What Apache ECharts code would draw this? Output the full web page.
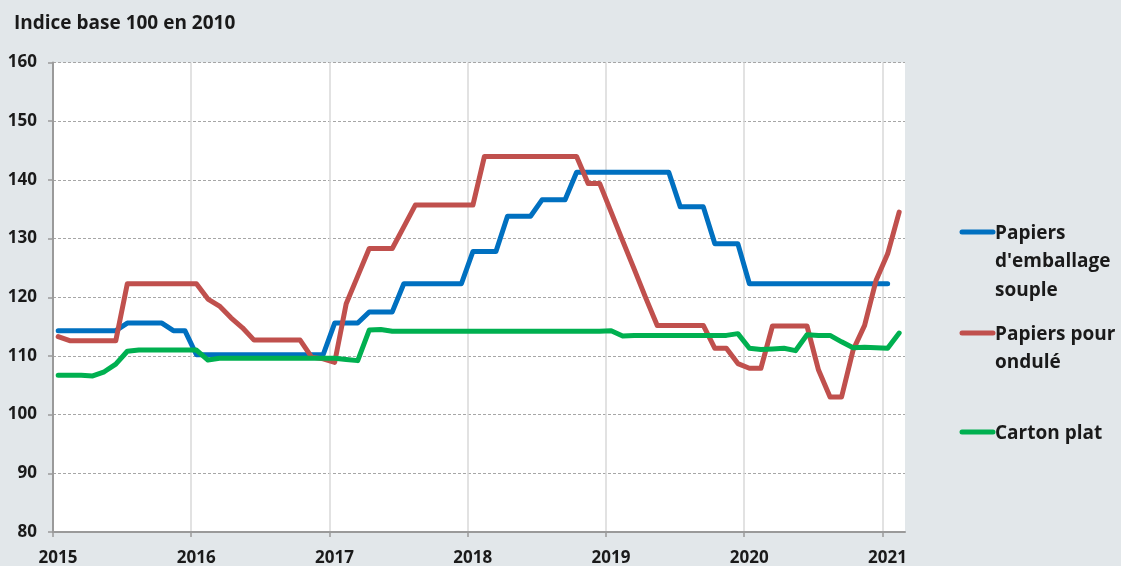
<!DOCTYPE html>
<html>
<head>
<meta charset="utf-8">
<script src="https://cdn.jsdelivr.net/npm/echarts@6/dist/echarts.min.js"></script>
<style>
  html, body { margin: 0; padding: 0; background: #e2e7ea; }
  #chart { width: 1121px; height: 566px; }
</style>
</head>
<body>
<div id="chart"></div>
<script>
// monthly index values, Jan 2015 onwards
const startYear = 2015;
const yearTicks = [2015, 2016, 2017, 2018, 2019, 2020, 2021];

const emballage = [
  114.3, 114.3, 114.3, 114.3, 114.3, 114.3, 115.6, 115.6, 115.6, 115.6, 114.3, 114.3,
  110.2, 110.2, 110.2, 110.2, 110.2, 110.2, 110.2, 110.2, 110.2, 110.2, 110.2, 110.2,
  115.6, 115.6, 115.6, 117.5, 117.5, 117.5, 122.3, 122.3, 122.3, 122.3, 122.3, 122.3,
  127.8, 127.8, 127.8, 133.8, 133.8, 133.8, 136.6, 136.6, 136.6, 141.3, 141.3, 141.3,
  141.3, 141.3, 141.3, 141.3, 141.3, 141.3, 135.4, 135.4, 135.4, 129.1, 129.1, 129.1,
  122.3, 122.3, 122.3, 122.3, 122.3, 122.3, 122.3, 122.3, 122.3, 122.3, 122.3, 122.3,
  122.3, null
];

const ondule = [
  113.3, 112.6, 112.6, 112.6, 112.6, 112.6, 122.3, 122.3, 122.3, 122.3, 122.3, 122.3,
  122.3, 119.7, 118.5, 116.5, 114.8, 112.7, 112.7, 112.7, 112.7, 112.7, 109.8, 109.5,
  108.9, 118.9, 123.6, 128.3, 128.3, 128.3, 132.0, 135.7, 135.7, 135.7, 135.7, 135.7,
  135.7, 144.0, 144.0, 144.0, 144.0, 144.0, 144.0, 144.0, 144.0, 144.0, 139.4, 139.4,
  134.5, 129.6, 124.8, 119.9, 115.2, 115.2, 115.2, 115.2, 115.2, 111.3, 111.3, 108.7,
  107.9, 107.9, 115.1, 115.1, 115.1, 115.1, 107.6, 103.0, 103.0, 111.0, 115.2, 122.9,
  127.4, 134.5
];

const cartonPlat = [
  106.7, 106.7, 106.7, 106.6, 107.3, 108.6, 110.8, 111.0, 111.0, 111.0, 111.0, 111.0,
  111.0, 109.3, 109.6, 109.6, 109.6, 109.6, 109.6, 109.6, 109.6, 109.6, 109.6, 109.6,
  109.6, 109.4, 109.2, 114.4, 114.5, 114.2, 114.2, 114.2, 114.2, 114.2, 114.2, 114.2,
  114.2, 114.2, 114.2, 114.2, 114.2, 114.2, 114.2, 114.2, 114.2, 114.2, 114.2, 114.2,
  114.3, 113.4, 113.5, 113.5, 113.5, 113.5, 113.5, 113.5, 113.5, 113.5, 113.5, 113.8,
  111.3, 111.1, 111.2, 111.3, 110.9, 113.6, 113.5, 113.5, 112.4, 111.4, 111.5, 111.4,
  111.3, 113.9
];

// each monthly value is plotted in the middle of its month
const monthPos = ondule.map((_, i) => startYear + (i + 0.45) / 12);
const pairs = (vals) => vals.map((v, i) => [monthPos[i], v]);

const font = "'Open Sans', sans-serif";
const ink = '#1a1a1a';

const chart = echarts.init(document.getElementById('chart'));

const seriesDefs = [
  { name: "Papiers d'emballage souple", data: emballage, color: '#0070c0' },
  { name: 'Papiers pour ondulé', data: ondule, color: '#c0504d' },
  { name: 'Carton plat', data: cartonPlat, color: '#00b050' }
];

const legendRows = [
  { text: "Papiers\nd'emballage\nsouple", color: '#0070c0', y: 232 },
  { text: 'Papiers pour\nondulé', color: '#c0504d', y: 333 },
  { text: 'Carton plat', color: '#00b050', y: 432 }
];

const graphics = [
  {
    type: 'text', left: 14, top: 14,
    style: { text: 'Indice base 100 en 2010', font: 'bold 19px ' + font, fill: ink }
  }
];
legendRows.forEach((r) => {
  graphics.push({
    type: 'line',
    shape: { x1: 962, y1: r.y, x2: 993, y2: r.y },
    style: { stroke: r.color, lineWidth: 5, lineCap: 'round' }
  });
  graphics.push({
    type: 'text', left: 995, top: r.y - 13,
    style: { text: r.text, font: 'bold 19px ' + font, fill: ink, lineHeight: 28.5 }
  });
});

// year split lines; the extra one at the axis max is hidden
const vLineColors = yearTicks.map(() => '#d9d9d9').concat(['rgba(0,0,0,0)']);

const option = {
  backgroundColor: '#e2e7ea',
  animation: false,
  grid: {
    left: 53, right: 216, top: 62.5, bottom: 34,
    outerBoundsMode: 'none',
    show: true, backgroundColor: '#ffffff', borderWidth: 0
  },
  xAxis: {
    type: 'value',
    min: 2015,
    max: 2021.163,
    interval: 1,
    axisLine: { lineStyle: { color: '#9a9a9a', width: 2 } },
    axisTick: { length: 5, lineStyle: { color: '#9a9a9a', width: 1.5 } },
    axisLabel: {
      margin: 18,
      color: ink,
      fontFamily: font,
      fontWeight: 'bold',
      fontSize: 17,
      padding: [0, 0, 0, 10],
      showMaxLabel: false,
      formatter: (v) => (yearTicks.includes(v) ? String(v) : '')
    },
    splitLine: { show: true, lineStyle: { color: vLineColors, width: 1.5 } }
  },
  yAxis: {
    type: 'value',
    min: 80,
    max: 160,
    interval: 10,
    axisLine: { show: true, lineStyle: { color: '#9a9a9a', width: 2 } },
    axisTick: { show: true, length: 5, lineStyle: { color: '#9a9a9a', width: 1.5 } },
    axisLabel: {
      margin: 16,
      color: ink,
      fontFamily: font,
      fontWeight: 'bold',
      fontSize: 17
    },
    splitLine: { show: true, lineStyle: { color: '#a6a6a6', width: 1, type: [3, 2] } }
  },
  series: seriesDefs.map((s) => ({
    name: s.name,
    type: 'line',
    data: pairs(s.data),
    showSymbol: false,
    connectNulls: false,
    lineStyle: { color: s.color, width: 5, cap: 'round', join: 'round' },
    itemStyle: { color: s.color }
  })),
  graphic: graphics
};

chart.setOption(option);
</script>
</body>
</html>
